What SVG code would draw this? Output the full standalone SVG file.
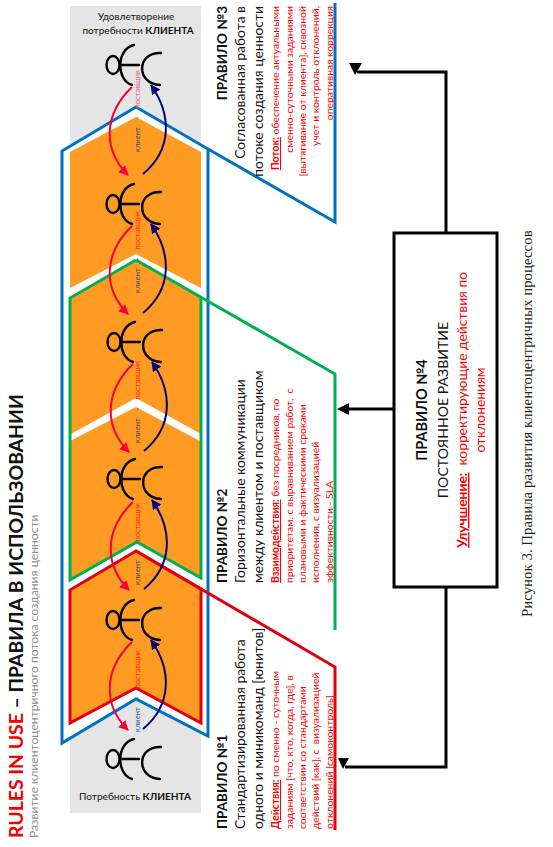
<svg xmlns="http://www.w3.org/2000/svg" xmlns:xlink="http://www.w3.org/1999/xlink" width="553" height="847" viewBox="0 0 553 847">
<style>
text{font-family:"Lato","Open Sans",sans-serif;fill:#111}
.b{font-weight:700}
.hd{font-size:13.5px}
.sub{font-size:13.9px}
.red{font-size:10.4px;fill:#ff0000}
.redb{font-weight:700;text-decoration:underline;fill:#ff0000}
.lab{font-size:7.6px;fill:#4a4a5a}
.pos{fill:#ff3010}
.ln{fill:none;stroke-width:3;stroke-linejoin:miter}
.fig{fill:none;stroke:#000;stroke-width:2.4;stroke-linecap:round}
.ra{fill:none;stroke:#f5003a;stroke-width:2;marker-end:url(#mr)}
.ba{fill:none;stroke:#000080;stroke-width:2;marker-end:url(#mb)}
.bk{fill:none;stroke:#000;stroke-width:3}
.end{text-anchor:end}
.mid{text-anchor:middle}
</style>
<defs>
<marker id="mr" markerUnits="userSpaceOnUse" markerWidth="12" markerHeight="12" refX="9" refY="5" orient="auto"><path d="M0 0L10 5L0 10Z" fill="#f5003a"/></marker>
<marker id="mb" markerUnits="userSpaceOnUse" markerWidth="12" markerHeight="12" refX="9" refY="5" orient="auto"><path d="M0 0L10 5L0 10Z" fill="#000080"/></marker>
<g id="f" class="fig"><ellipse cx="113" cy="65" rx="6.5" ry="9"/><path d="M120 65H139M134 45C116 49 116 80 132 85M161 53C136 52 136 84 160 85"/></g>
<path id="r" class="ra" d="M132 87C103 115 103 150 128 175"/>
<path id="u" class="ba" d="M143 174C172 150 172 115 151 85"/>
</defs>
<g id="background">
<rect x="70" y="6" width="131" height="150" fill="#e5e5e5"/>
<rect x="70" y="700" width="131" height="113" fill="#e5e5e5"/>
</g>
<g id="flow-frame">
<path d="M136 107L208 149V736L136 699L62 743V151Z" fill="#fff" stroke="#0070c0" stroke-width="3"/>
<path d="M208 149L335 222V3" class="ln" stroke="#0070c0"/>
</g>
<g id="stages" fill="#ff9a22">
<path d="M136 117L201 152V288L136 254L70 288V152Z"/>
<path d="M136 260L201 297V434L136 398L71 434V298Z"/>
<path d="M136 407L200 441V578L136 542L70 580V441Z"/>
</g>
<g id="rule2-frame">
<path d="M136 260L335 374V630" class="ln" stroke="#00b050"/>
<path d="M201 297V578L137 542L70 580V298L136 260" class="ln" stroke="#00b050"/>
</g>
<g id="rule1-frame">
<path d="M136 551L201 589V723L136 688L70 723V590Z" fill="#ff9a22" stroke="#e00010" stroke-width="3"/>
<path d="M136 551L335 667V830" class="ln" stroke="#e00010"/>
</g>
<g id="figures">
<use id="fig1" xlink:href="#f" href="#f"/>
<use id="fig2" xlink:href="#f" href="#f" y="139"/>
<use id="fig3" xlink:href="#f" href="#f" x="1" y="277"/>
<use id="fig4" xlink:href="#f" href="#f" x="1" y="414"/>
<use id="fig5" xlink:href="#f" href="#f" y="555"/>
<use id="fig6" xlink:href="#f" href="#f" y="694"/>
</g>
<g id="connectors">
<use xlink:href="#r" href="#r"/><use xlink:href="#u" href="#u"/>
<use xlink:href="#r" href="#r" y="139"/><use xlink:href="#u" href="#u" y="139"/>
<use xlink:href="#r" href="#r" x="1" y="277"/><use xlink:href="#u" href="#u" x="1" y="277"/>
<use xlink:href="#r" href="#r" x="1" y="415"/><use xlink:href="#u" href="#u" x="1" y="415"/>
<use xlink:href="#r" href="#r" y="555"/><use xlink:href="#u" href="#u" y="555"/>
<path class="bk" d="M446 233V72H357"/>
<path d="M349 63H362L355 75Z"/>
<path class="bk" d="M394 409H345"/>
<path d="M337 409L349 403V415Z"/>
<path class="bk" d="M446 588V767H345"/>
<path d="M338 758H349L343 769Z"/>
</g>
<g id="stage-labels">
<text class="lab" transform="translate(140 152) rotate(-90)">клиент<tspan dx="8">-</tspan><tspan class="pos" dx="8" style="fill:#e8607a">поставщик</tspan></text>
<text class="lab" transform="translate(140 293) rotate(-90)">клиент<tspan dx="8">-</tspan><tspan class="pos" dx="8">поставщик</tspan></text>
<text class="lab" transform="translate(140 443) rotate(-90)">клиент<tspan dx="8">-</tspan><tspan class="pos" dx="8">поставщик</tspan></text>
<text class="lab" transform="translate(140 585) rotate(-90)">клиент<tspan dx="8">-</tspan><tspan class="pos" dx="8">поставщик</tspan></text>
<text class="lab" transform="translate(140 732) rotate(-90)" style="fill:#2f5597">клиент<tspan dx="8">-</tspan><tspan class="pos" dx="8">поставщик</tspan></text>
</g>
<g id="title">
<text class="b" font-size="19.4" transform="translate(23 838) rotate(-90)"><tspan style="fill:#f00000">RULES IN USE</tspan> – ПРАВИЛА В ИСПОЛЬЗОВАНИИ</text>
<text font-size="12.1" style="fill:#909090" transform="translate(38 838) rotate(-90)">Развитие клиентоцентричного потока создания ценности</text>
</g>
<g id="goal-label">
<text class="mid" x="136" y="20" font-size="10.1">Удовлетворение</text>
<text class="mid" x="138" y="34" font-size="10.1">потребности <tspan class="b">КЛИЕНТА</tspan></text>
</g>
<g id="need-label">
<text class="mid" x="135" y="800" font-size="10.1">Потребность <tspan class="b">КЛИЕНТА</tspan></text>
</g>
<g id="rule3">
<text class="hd b end" transform="translate(227 6) rotate(-90)">ПРАВИЛО №3</text>
<text class="sub end" transform="translate(245 6) rotate(-90)">Согласованная работа в</text>
<text class="sub end" transform="translate(263 6) rotate(-90)">потоке создания ценности</text>
<text class="red end" transform="translate(279 6) rotate(-90)"><tspan class="redb">Поток:</tspan> обеспечение актуальными</text>
<text class="red end" transform="translate(293 6) rotate(-90)">сменно-суточными заданиями</text>
<text class="red end" transform="translate(306 6) rotate(-90)">[вытягивание от клиента], сквозной</text>
<text class="red end" transform="translate(319 6) rotate(-90)">учет и контроль отклонений,</text>
<text class="red end" transform="translate(333 6) rotate(-90)">оперативная коррекция</text>
</g>
<g id="rule2">
<text class="hd b" transform="translate(227 583) rotate(-90)">ПРАВИЛО №2</text>
<text class="sub" transform="translate(245 583) rotate(-90)">Горизонтальные коммуникации</text>
<text class="sub" transform="translate(263 583) rotate(-90)">между клиентом и поставщиком</text>
<text class="red" transform="translate(279 583) rotate(-90)"><tspan class="redb">Взаимодействия:</tspan> без посредников, по</text>
<text class="red" xml:space="preserve" transform="translate(293 583) rotate(-90)">приоритетам, с выравниванием работ,  с</text>
<text class="red" transform="translate(306 583) rotate(-90)">плановыми и фактическими сроками</text>
<text class="red" transform="translate(319 583) rotate(-90)">исполнения, с визуализацией</text>
<text class="red" transform="translate(333 583) rotate(-90)">эффективности - SLA</text>
</g>
<g id="rule1">
<text class="hd b" transform="translate(227 829) rotate(-90)">ПРАВИЛО №1</text>
<text class="sub" transform="translate(245 829) rotate(-90)">Стандартизированная работа</text>
<text class="sub" transform="translate(263 829) rotate(-90)">одного и миникоманд [юнитов]</text>
<text class="red" transform="translate(279 829) rotate(-90)"><tspan class="redb">Действия:</tspan> по сменно - суточным</text>
<text class="red" transform="translate(293 829) rotate(-90)">заданиям [что, кто, когда, где], в</text>
<text class="red" transform="translate(306 829) rotate(-90)">соответствии со стандартами</text>
<text class="red" xml:space="preserve" transform="translate(319 829) rotate(-90)">действий [как], с  визуализацией</text>
<text class="red" text-decoration="underline" transform="translate(333 829) rotate(-90)">отклонений [самоконтроль]</text>
</g>
<g id="rule4">
<rect x="394" y="233" width="103" height="354" fill="#fff" stroke="#000" stroke-width="3"/>
<text class="b mid" font-size="14.5" transform="translate(427 410) rotate(-90)">ПРАВИЛО №4</text>
<text class="mid" font-size="14.1" transform="translate(448 410) rotate(-90)">ПОСТОЯННОЕ РАЗВИТИЕ</text>
<text class="mid" font-size="13.8" style="fill:#ff0000" xml:space="preserve" transform="translate(467 410) rotate(-90)"><tspan class="redb">Улучшение:</tspan>  корректирующие действия по</text>
<text class="mid" font-size="13.8" style="fill:#ff0000" transform="translate(485 410) rotate(-90)">отклонениям</text>
</g>
<g id="caption">
<text font-size="14.9" style="font-family:'Liberation Serif',serif;fill:#222" transform="translate(532 617) rotate(-90)">Рисунок 3. Правила развития клиентоцентричных процессов</text>
</g>
</svg>
